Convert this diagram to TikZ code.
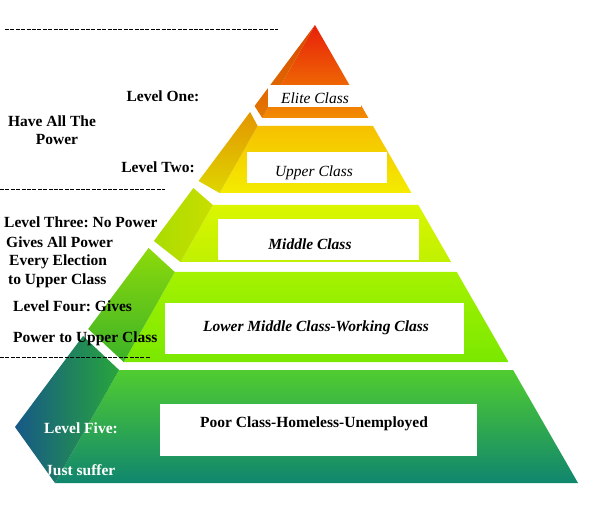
\documentclass[tikz,border=0pt]{standalone}
\usepackage{fontspec}
\setmainfont{Liberation Serif}
\frenchspacing
\definecolor{lOneTop}{RGB}{232,32,10}
\definecolor{lOneBot}{RGB}{242,140,0}
\definecolor{lOneSideA}{RGB}{215,70,0}
\definecolor{lOneSideB}{RGB}{228,120,0}
\definecolor{lTwoTop}{RGB}{246,192,0}
\definecolor{lTwoBot}{RGB}{244,236,0}
\definecolor{lTwoSideA}{RGB}{228,150,0}
\definecolor{lTwoSideB}{RGB}{222,214,0}
\definecolor{lThrTop}{RGB}{218,246,0}
\definecolor{lThrBot}{RGB}{192,240,0}
\definecolor{lThrSideA}{RGB}{200,222,0}
\definecolor{lThrSideB}{RGB}{170,220,0}
\definecolor{lFouTop}{RGB}{165,242,0}
\definecolor{lFouBot}{RGB}{122,232,0}
\definecolor{lFouSideA}{RGB}{140,218,10}
\definecolor{lFouSideB}{RGB}{60,178,40}
\definecolor{lFivTop}{RGB}{80,204,48}
\definecolor{lFivMid}{RGB}{18,140,110}
\definecolor{lFivBot}{RGB}{16,134,110}
\definecolor{lFivSideA}{RGB}{22,88,135}
\definecolor{lFivSideB}{RGB}{40,165,60}
\tikzset{
  lbl/.style={font=\fontsize{15.5}{17}\selectfont\bfseries, inner sep=0pt},
  lblw/.style={lbl, text=white},
  cls/.style={font=\fontsize{15.5}{17}\selectfont\itshape, inner sep=0pt},
  clsb/.style={font=\fontsize{15.5}{17}\selectfont\bfseries\itshape, inner sep=0pt},
  clsu/.style={font=\fontsize{15.5}{17}\selectfont\bfseries, inner sep=0pt},
  wbox/.style={fill=white, draw=none},
  hyph/.style={line width=0.8pt, dash pattern=on 4pt off 1.4pt}
}
\begin{document}
\begin{tikzpicture}[x=1pt,y=-1pt]
\useasboundingbox (0,0) rectangle (590,516);
\fill[white] (0,0) rectangle (590,516);
% outline points
\coordinate (A) at (315,25);
\coordinate (FL) at (55,483);
\coordinate (FR) at (578,483);
\coordinate (BL) at (15,427);
% layer 1
\coordinate (f1b) at (262.2,118); \coordinate (r1b) at (368.4,118); \coordinate (o1b) at (254.6,106);
% layer 2
\coordinate (f2t) at (257.7,126); \coordinate (r2t) at (373.0,126); \coordinate (o2t) at (250.1,112);
\coordinate (f2b) at (219.6,193); \coordinate (r2b) at (411.5,193); \coordinate (o2b) at (198.6,181);
% layer 3
\coordinate (f3t) at (212.8,205); \coordinate (r3t) at (418.4,205); \coordinate (o3t) at (193.4,188);
\coordinate (f3b) at (180.5,262); \coordinate (r3b) at (451.1,262); \coordinate (o3b) at (153.9,241);
% layer 4
\coordinate (f4t) at (174.8,272); \coordinate (r4t) at (456.8,272); \coordinate (o4t) at (148.6,248);
\coordinate (f4b) at (123.7,362); \coordinate (r4b) at (508.5,362); \coordinate (o4b) at (88.2,329);
% layer 5
\coordinate (f5t) at (119.1,370); \coordinate (r5t) at (513.1,370); \coordinate (o5t) at (83.0,336);
% Layer 1
\shade[top color=lOneTop, bottom color=lOneBot] (A) -- (r1b) -- (f1b) -- cycle;
\shade[top color=lOneSideA, bottom color=lOneSideB] (A) -- (f1b) -- (o1b) -- cycle;
% Layer 2
\shade[top color=lTwoTop, bottom color=lTwoBot] (f2t) -- (r2t) -- (r2b) -- (f2b) -- cycle;
\shade[top color=lTwoSideA, bottom color=lTwoSideB] (o2t) -- (f2t) -- (f2b) -- (o2b) -- cycle;
% Layer 3
\shade[top color=lThrTop, bottom color=lThrBot] (f3t) -- (r3t) -- (r3b) -- (f3b) -- cycle;
\shade[left color=lThrSideB, right color=lThrSideA] (o3t) -- (f3t) -- (f3b) -- (o3b) -- cycle;
% Layer 4
\shade[top color=lFouTop, bottom color=lFouBot] (f4t) -- (r4t) -- (r4b) -- (f4b) -- cycle;
\shade[top color=lFouSideA, bottom color=lFouSideB] (o4t) -- (f4t) -- (f4b) -- (o4b) -- cycle;
% Layer 5
\shade[top color=lFivTop, middle color=lFivMid, bottom color=lFivBot] (f5t) -- (r5t) -- (FR) -- (FL) -- cycle;
\shade[left color=lFivSideA, right color=lFivSideB] (o5t) -- (f5t) -- (FL) -- (BL) -- cycle;
% white class boxes
\fill[wbox] (268,85) rectangle (361,107);
\fill[wbox] (247,152) rectangle (387,183);
\fill[wbox] (218,219) rectangle (419,260);
\fill[wbox] (165,303) rectangle (464,354);
\fill[wbox] (160,404) rectangle (477,456);
\node[cls] (elite) at (315,98) {Elite Class};
\node[cls] (upper) at (314,173) {Upper Class};
\node[clsb] (middle) at (310,244) {Middle Class};
\node[clsb] (lower) at (316,328) {Lower Middle Class-Working Class};
\node[clsu] (poor) at (314,424) {Poor Class-Homeless-Unemployed};
% dashed separators
\draw[hyph] (5,29) -- (278,29);
\draw[hyph] (0,189) -- (165,189);
\draw[hyph] (0,357) -- (150,357);
% left labels
\node[lbl] (l1) at (163,96) {Level One:};
\node[lbl] (hp1) at (52,121) {Have All The};
\node[lbl] (hp2) at (57,140) {Power};
\node[lbl] (l2) at (158,167) {Level Two:};
\node[lbl, anchor=west] (l3a) at (4,222) {Level Three: No Power};
\node[lbl, anchor=west] (l3b) at (6,242) {Gives All Power};
\node[lbl, anchor=west] (l3c) at (9,262) {Every Election};
\node[lbl, anchor=west] (l3d) at (8,281) {to Upper Class};
\node[lbl, anchor=west] (l4a) at (13,306) {Level Four: Gives};
\node[lbl, anchor=west] (l4b) at (13,339) {Power to Upper Class};
\node[lblw, anchor=west] (l5a) at (44,428) {Level Five:};
\node[lblw, anchor=west] (l5b) at (45,470) {Just suffer};
\end{tikzpicture}
\end{document}
